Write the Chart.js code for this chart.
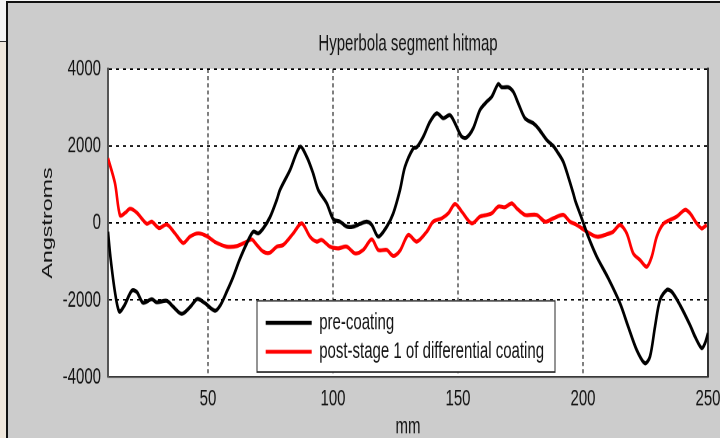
<!DOCTYPE html>
<html>
<head>
<meta charset="utf-8">
<script src="https://cdn.jsdelivr.net/npm/chart.js@4/dist/chart.umd.min.js"></script>
<style>
  html, body { margin: 0; padding: 0; }
  body { width: 720px; height: 438px; overflow: hidden; position: relative; background: #f4f4f4; }
  #side { position: absolute; left: 0; top: 41px; width: 7px; height: 397px; background: #efe7dc; border-top: 1px solid #333; }
  #panel { position: absolute; left: 6px; top: 1px; width: 714px; height: 437px; box-sizing: border-box;
           background: #cccccc; border-left: 2px solid #111; border-top: 2px solid #111; }
  /* the figure is laid out at 720x282 and shown stretched to full height */
  #stage { position: absolute; left: 0; top: 0; width: 720px; height: 282px;
           transform: scaleY(1.553191); transform-origin: 0 0; }
  #stage canvas { display: block; }
</style>
</head>
<body>
<div id="side"></div>
<div id="panel"></div>
<div id="stage"><canvas id="hitmap"></canvas></div>
<script>
// Surface error along the hyperbola segment (mm vs Angstroms)
const preMm = [10, 11, 12.8, 14.5, 16.5, 19.5, 21.5, 24, 27.5, 29.5, 33.5, 36, 39.5, 43, 45.7, 48.8,
  52.8, 55, 57.5, 60.1, 62.6, 65.5, 68.1, 70.1, 72.1, 74.8, 77.5, 78.8, 82.8, 86.8, 89.5, 92,
  94.1, 97.5, 100.1, 102.8, 105.5, 108, 110.8, 113.5, 115.5, 118.1, 121.5, 124.1, 126.8, 128.8,
  132.1, 133.5, 136.1, 138.8, 141.5, 144.1, 146.8, 148.8, 151.5, 153.5, 156.1, 158.8, 161.5,
  163.5, 166.1, 167.5, 170.1, 172.1, 174.1, 176.8, 180.1, 182.1, 185.5, 188.1, 190.1, 192.1,
  194.1, 196.1, 197, 199.5, 202.1, 205.5, 210.1, 214.8, 218.1, 221.5, 224.8, 226.8, 228.8,
  230.8, 233.5, 235.5, 238.8, 242.8, 244.8, 247.5, 248.8, 250];
const preCoating = [-230, -900, -1800, -2300, -2150, -1760, -1790, -2070, -1980, -2060, -2020, -2170,
  -2360, -2170, -1975, -2085, -2280, -2130, -1785, -1395, -960, -530, -225, -270, -140, 150, 600,
  860, 1375, 1980, 1720, 1300, 860, 510, 100, 35, -95, -95, -25, 35, -50, -355, -95, 250, 860,
  1460, 1940, 1965, 2240, 2630, 2850, 2720, 2800, 2590, 2240, 2225, 2460, 2935, 3150, 3280, 3610,
  3525, 3525, 3410, 3110, 2720, 2590, 2460, 2155, 2000, 1810, 1590, 1200, 770, 560, 120, -355,
  -875, -1435, -2085, -2695, -3300, -3645, -3470, -2695, -2000, -1740, -1785, -2130, -2650,
  -2950, -3255, -3125, -2865];

const postMm = [10, 12.8, 14.8, 16.8, 18.8, 21.5, 25.5, 27.5, 30.4, 33.5, 36.8, 40.1, 42.8, 46.1,
  49.5, 53, 57.5, 61.5, 65.5, 67.5, 69.5, 72.1, 74.8, 77.5, 80.1, 84.1, 87.5, 90.8, 93.5, 95.5,
  98.8, 102.1, 105.5, 108.8, 112.1, 115.5, 118.1, 121.5, 124.1, 126.8, 130.1, 133.5, 137.5,
  140.1, 143.5, 146.1, 148.8, 151.5, 155.5, 158.8, 161.5, 163.5, 166.1, 168.8, 171.5, 173.5,
  176.8, 181.5, 184.8, 188.1, 192.1, 194.8, 197.5, 201.5, 205.5, 208.8, 212.1, 214.8, 217.5,
  220.1, 222.8, 225.5, 227.5, 229.5, 232.1, 234.8, 237.5, 240.8, 242.8, 245.5, 247.5, 249.5];
const postStage1 = [1680, 1030, 200, 260, 370, 270, -20, 35, -130, -40, -270, -520, -355, -270,
  -340, -500, -615, -600, -485, -425, -570, -745, -770, -615, -570, -270, -10, -355, -485, -440,
  -615, -660, -615, -790, -700, -425, -700, -700, -855, -720, -310, -485, -225, 35, 120, 250, 495,
  295, -10, 165, 210, 250, 425, 410, 510, 380, 210, 210, 35, 120, 210, 35, -50, -225, -355, -310,
  -225, -50, -270, -790, -960, -1135, -875, -355, -25, 80, 165, 340, 250, -10, -140, -50];

const seriesNames = ['pre-coating', 'post-stage 1 of differential coating'];
const mmTicks = [50, 100, 150, 200, 250];
const angTicks = [-4000, -2000, 0, 2000, 4000];

const toPoints = (xs, ys) => xs.map((x, i) => ({ x: x, y: ys[i] }));

const FONT = { family: "'Liberation Sans', Arial, sans-serif", size: 15 };
const INK = '#141414';

// white plot background, legend frame and placement
const frame = {
  id: 'frame',
  beforeDraw(chart) {
    const a = chart.chartArea, ctx = chart.ctx;
    ctx.save();
    ctx.fillStyle = '#ffffff';
    ctx.fillRect(a.left, a.top, a.right - a.left, a.bottom - a.top);
    ctx.restore();
  },
  afterLayout(chart) {
    const lg = chart.legend;
    const w = lg.width;
    lg.left = 262; lg.top = 196.6;
    lg.right = lg.left + w + 40; lg.bottom = lg.top + 44;
  },
  beforeDatasetsDraw(chart) {
    const lg = chart.legend, ctx = chart.ctx;
    const x0 = lg.left - 5.5, y0 = lg.top - 3.4;
    ctx.save();
    ctx.fillStyle = '#ffffff';
    ctx.strokeStyle = '#2a2a2a';
    ctx.lineWidth = 1;
    ctx.fillRect(x0, y0, 299, 46.8);
    ctx.strokeRect(x0 + 0.5, y0 + 0.5, 298, 45.8);
    ctx.restore();
    lg.draw();
  }
};

new Chart(document.getElementById('hitmap'), {
  type: 'line',
  data: {
    datasets: [
      { label: seriesNames[0], data: toPoints(preMm, preCoating), borderColor: '#000000',
        backgroundColor: '#000000', borderWidth: 2.6, pointRadius: 0, tension: 0.3 },
      { label: seriesNames[1], data: toPoints(postMm, postStage1), borderColor: '#ff0000',
        backgroundColor: '#ff0000', borderWidth: 2.6, pointRadius: 0, tension: 0.3 }
    ]
  },
  options: {
    responsive: true,
    maintainAspectRatio: false,
    animation: false,
    devicePixelRatio: 2,
    layout: { padding: 0 },
    plugins: {
      title: {
        display: true, text: 'Hyperbola segment hitmap', fullSize: false,
        color: INK, font: { ...FONT, weight: 'normal' }, padding: { top: 19.3, bottom: 7.1 }
      },
      legend: {
        display: true, position: 'chartArea', align: 'start',
        labels: { usePointStyle: true, pointStyle: 'line', pointStyleWidth: 46,
                  padding: 3.7, color: INK, font: FONT }
      },
      tooltip: { enabled: false }
    },
    scales: {
      x: {
        type: 'linear', position: 'bottom', min: 10, max: 250,
        afterBuildTicks: (s) => { s.ticks = mmTicks.map(v => ({ value: v })); },
        afterFit: (s) => { s.height = 39.3; s.paddingLeft = 0; s.paddingRight = 0; },
        ticks: { color: INK, font: FONT, padding: 5, maxRotation: 0, callback: (v) => String(v) },
        grid: { color: '#000000', lineWidth: 1, drawTicks: false },
        border: { display: true, color: '#3a3a3a', width: 1.3, dash: [2.6, 2] },
        title: { display: true, text: 'mm', color: INK, font: FONT, padding: { top: 0, bottom: -1.9 } }
      },
      y: {
        type: 'linear', position: 'left', min: -4000, max: 4000,
        afterBuildTicks: (s) => { s.ticks = angTicks.map(v => ({ value: v })); },
        afterFit: (s) => { s.width = 108; s.paddingTop = 0; s.paddingBottom = 0; },
        ticks: { color: INK, font: FONT, padding: 7, callback: (v) => String(v) },
        grid: { color: '#000000', lineWidth: 1, drawTicks: false },
        border: { display: true, color: '#555555', width: 2, dash: [3, 4] },
        title: { display: true, text: 'Angstroms', color: INK, font: FONT, padding: { top: 39, bottom: 0 } }
      },
      yRight: {
        type: 'linear', position: 'right', min: -4000, max: 4000,
        afterFit: (s) => { s.width = 12; s.paddingTop = 0; s.paddingBottom = 0; },
        ticks: { display: false },
        grid: { display: false, drawTicks: false },
        border: { display: true, color: '#333333', width: 2 }
      }
    }
  },
  plugins: [frame]
});
</script>
</body>
</html>
